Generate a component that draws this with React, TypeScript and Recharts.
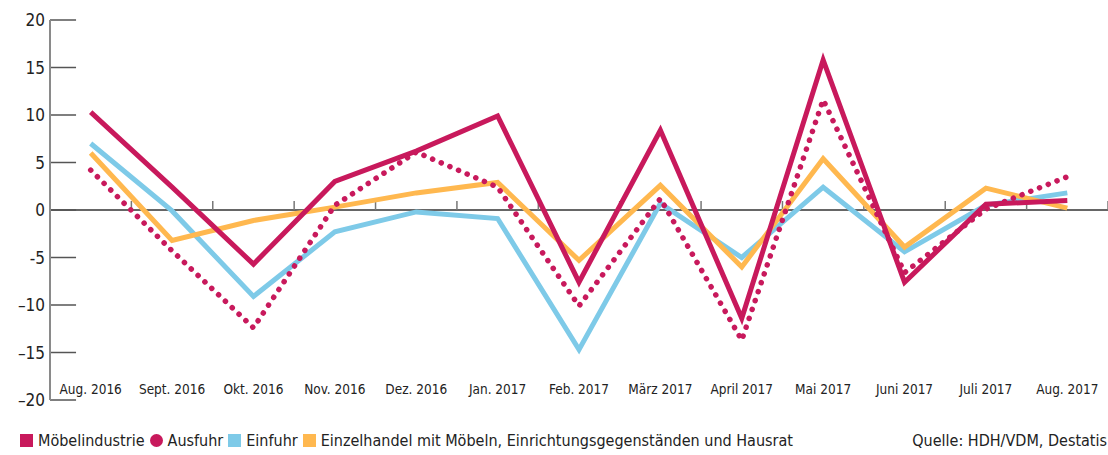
import { LineChart, Line, XAxis, YAxis, ReferenceLine } from "recharts";

const months = [
  "Aug. 2016",
  "Sept. 2016",
  "Okt. 2016",
  "Nov. 2016",
  "Dez. 2016",
  "Jan. 2017",
  "Feb. 2017",
  "März 2017",
  "April 2017",
  "Mai 2017",
  "Juni 2017",
  "Juli 2017",
  "Aug. 2017",
];

const moebelindustrie = [10.3, 2.4, -5.7, 3.0, 6.2, 9.9, -7.6, 8.4, -11.4, 15.8, -7.6, 0.6, 1.0];
const ausfuhr = [4.2, -4.3, -12.4, 0.5, 6.1, 2.4, -10.1, 1.2, -13.7, 11.6, -6.6, 0.1, 3.5];
const einfuhr = [7.0, -0.1, -9.1, -2.3, -0.2, -0.9, -14.7, 0.7, -5.0, 2.4, -4.4, 0.5, 1.8];
const einzelhandel = [6.0, -3.2, -1.1, 0.3, 1.8, 2.9, -5.3, 2.6, -6.0, 5.4, -3.9, 2.3, 0.2];

const yTicks = [-20, -15, -10, -5, 0, 5, 10, 15, 20];

const CRIMSON = "#c8195c";
const BLUE = "#7ecae8";
const ORANGE = "#ffb84f";
const FONT = "'Liberation Sans Narrow', 'Arial Narrow', 'DejaVu Sans Condensed', sans-serif";

const legendItems = [
  { label: "Möbelindustrie", color: CRIMSON, round: false },
  { label: "Ausfuhr", color: CRIMSON, round: true },
  { label: "Einfuhr", color: BLUE, round: false },
  { label: "Einzelhandel mit Möbeln, Einrichtungsgegenständen und Hausrat", color: ORANGE, round: false },
];

const data = months.map((month, i) => ({
  i,
  month,
  moebel: moebelindustrie[i],
  ausfuhr: ausfuhr[i],
  einfuhr: einfuhr[i],
  handel: einzelhandel[i],
}));

const fmtY = (v: number) => (v === -5 ? "-5" : v < 0 ? "\u2013" + Math.abs(v) : String(v));

const XTick = (props: any) => {
  const { x, y, payload } = props;
  return (
    <text x={x} y={y} dy={-6} textAnchor="middle" fontSize={13.5} fill="#222" fontFamily={FONT}>
      {months[payload.value]}
    </text>
  );
};

const YTick = (props: any) => {
  const { x, y, payload } = props;
  return (
    <text x={x} y={y} dy={6} textAnchor="end" fontSize={17} fill="#222" fontFamily={FONT}>
      {fmtY(payload.value)}
    </text>
  );
};

export default function App() {
  return (
    <div style={{ position: "absolute", left: 0, top: 0, width: 1108, height: 455, background: "#fff", fontFamily: FONT }}>
      <LineChart width={1108} height={455} data={data} margin={{ top: 20, right: 0, left: 0, bottom: 25 }}>
        <XAxis
          dataKey="i"
          type="number"
          domain={[-0.5, 12.5]}
          ticks={months.map((_, i) => i)}
          axisLine={false}
          tickLine={false}
          tickSize={0}
          tickMargin={0}
          height={30}
          tick={<XTick />}
          interval={0}
        />
        <YAxis
          domain={[-20, 20]}
          ticks={yTicks}
          width={50}
          axisLine={{ stroke: "#8a8a8a", strokeWidth: 2 }}
          tickLine={false}
          tickSize={0}
          tickMargin={5}
          tick={<YTick />}
          interval={0}
        />
        <ReferenceLine y={0} stroke="#333" strokeWidth={1.5} />
        {yTicks.map((v) => (
          <ReferenceLine
            key={"y" + v}
            segment={[
              { x: -0.5, y: v },
              { x: -0.18, y: v },
            ]}
            stroke="#555"
            strokeWidth={1.5}
          />
        ))}
        {months.map((_, k) => (
          <ReferenceLine
            key={"b" + k}
            segment={[
              { x: k + 0.5, y: 0 },
              { x: k + 0.5, y: 0.95 },
            ]}
            stroke="#777"
            strokeWidth={1.5}
          />
        ))}
        <Line type="linear" dataKey="einfuhr" stroke={BLUE} strokeWidth={5} dot={false} isAnimationActive={false} />
        <Line type="linear" dataKey="handel" stroke={ORANGE} strokeWidth={5} dot={false} isAnimationActive={false} />
        <Line
          type="linear"
          dataKey="ausfuhr"
          stroke={CRIMSON}
          strokeWidth={5.5}
          strokeDasharray="0.1 9.3"
          strokeLinecap="round"
          dot={false}
          isAnimationActive={false}
        />
        <Line type="linear" dataKey="moebel" stroke={CRIMSON} strokeWidth={5} dot={false} isAnimationActive={false} />
      </LineChart>
      <div
        style={{
          position: "absolute",
          left: 20,
          top: 431,
          display: "flex",
          alignItems: "center",
          fontSize: 16,
          color: "#222",
          whiteSpace: "nowrap",
        }}
      >
        {legendItems.map((it) => (
          <span key={it.label} style={{ display: "flex", alignItems: "center", marginRight: 5 }}>
            <span
              style={{
                display: "inline-block",
                width: 13,
                height: 13,
                background: it.color,
                borderRadius: it.round ? "50%" : 0,
                marginRight: 5,
              }}
            />
            {it.label}
          </span>
        ))}
      </div>
      <div style={{ position: "absolute", right: 1, top: 431, fontSize: 16, color: "#222", whiteSpace: "nowrap" }}>
        Quelle: HDH/VDM, Destatis
      </div>
    </div>
  );
}
